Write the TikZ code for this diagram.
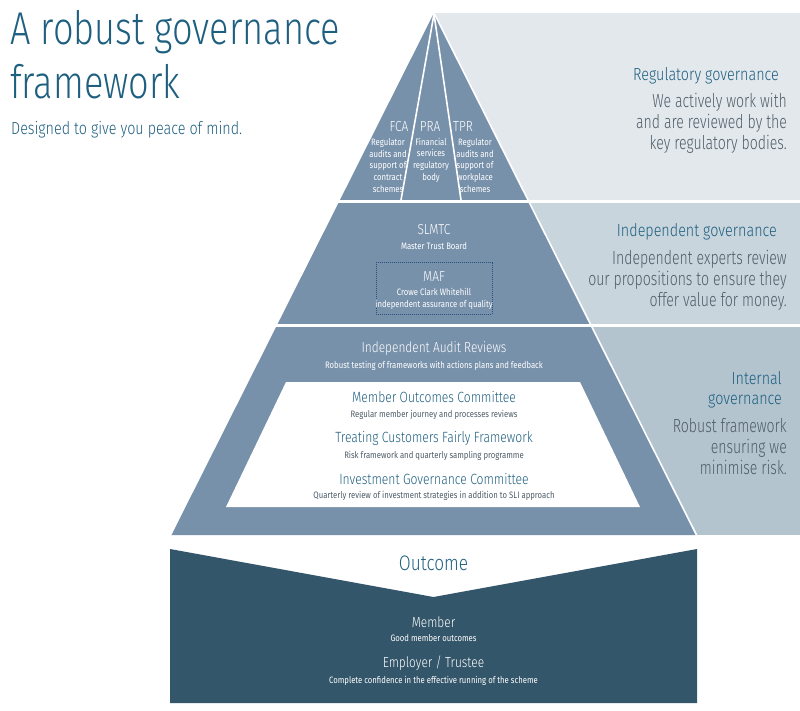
\documentclass[tikz,border=0pt]{standalone}
\usepackage{fontspec}
\setmainfont{Fira Sans}[UprightFont=* Light, FakeStretch=0.82]
\newfontfamily\narrowfont{Fira Sans}[UprightFont=* Light, FakeStretch=0.74]
\newfontfamily\titlefont{Fira Sans}[UprightFont=* Light, FakeStretch=0.785]
\newfontfamily\finefont{Fira Sans}[FakeStretch=0.83]
\definecolor{pyrfill}{HTML}{7891AB}
\definecolor{panA}{HTML}{E3E8EC}
\definecolor{panB}{HTML}{C9D5DD}
\definecolor{panC}{HTML}{B3C4CF}
\definecolor{outfill}{HTML}{34566A}
\definecolor{headblue}{HTML}{1E5F80}
\definecolor{bodygray}{HTML}{4F5D68}
\definecolor{mafline}{HTML}{2B4F7C}
\newcommand\fsz[2]{\fontsize{#1}{#2}\selectfont}
\tikzset{
  lbl/.style={inner sep=0, align=center},
  hwhite/.style={lbl, text=white, font=\fsz{14.5}{16}},
  swhite/.style={lbl, text=white, font=\finefont\fsz{9.3}{11.7}},
  hblue/.style={lbl, text=headblue, font=\fsz{14.8}{16}},
  sgray/.style={lbl, text=bodygray, font=\finefont\fsz{9.3}{11.7}},
  paneltitle/.style={inner sep=0, align=right, anchor=east, text=headblue, font=\fsz{17.5}{20.5}},
  paneltext/.style={inner sep=0, align=right, anchor=east, text=bodygray, font=\narrowfont\fsz{19}{21}},
  gap/.style={white, line width=3pt},
  seam/.style={white, line width=1.6pt},
}
\begin{document}
\begin{tikzpicture}[x=1pt, y=-1pt]
\useasboundingbox (0,0) rectangle (800,711);

% right-hand explanation panels
\fill[panA] (434,13) rectangle (800,200);
\fill[panB] (434,203) rectangle (800,324);
\fill[panC] (434,327) rectangle (800,535);

% pyramid body
\fill[pyrfill] (434,13) -- (696.5,535) -- (171.5,535) -- cycle;
\draw[seam] (434,13) -- (696.5,535);
\draw[gap] (150,201.5) -- (800,201.5);
\draw[gap] (150,325.5) -- (800,325.5);

% regulator segments at the top
\draw[seam] (434,14) -- (401,200);
\draw[seam] (434,14) -- (461,200);

% inner white band of the bottom tier
\fill[white] (286,382) -- (580,382) -- (640,507) -- (226,507) -- cycle;

% outcome chevron block
\fill[outfill] (170,549) -- (433.5,597) -- (697,549) -- (697,703) -- (170,703) -- cycle;

% title block
\node[anchor=north west, align=left, inner sep=0, text=headblue, font=\titlefont\fsz{46}{54}] (title) at (10,10) {A robust governance\\framework};
\node[anchor=west, inner sep=0, text=headblue, font=\fsz{17.5}{20}] (subtitle) at (11,130) {Designed to give you peace of mind.};

% top tier: regulators
\node[hwhite] (fca) at (399,127) {FCA};
\node[hwhite] (pra) at (430,127) {PRA};
\node[hwhite] (tpr) at (463,127) {TPR};
\node[swhite] (fcatxt) at (388,165.5) {Regulator\\audits and\\support of\\contract\\schemes};
\node[swhite] (pratxt) at (431,160) {Financial\\services\\regulatory\\body};
\node[swhite] (tprtxt) at (475,165.5) {Regulator\\audits and\\support of\\workplace\\schemes};

% middle tier: trust board and assurance
\node[hwhite] (slmtc) at (434,230) {SLMTC};
\node[swhite] (slmtctxt) at (434,246.5) {Master Trust Board};
\node[draw=mafline, densely dotted, line width=1pt, minimum width=116pt, minimum height=51pt, inner sep=0] (mafbox) at (434,288.5) {};
\node[hwhite] (maf) at (434,277) {MAF};
\node[swhite] (maftxt) at (434,299) {Crowe Clark Whitehill\\independent assurance of quality};

% bottom tier: internal reviews
\node[hwhite] (iar) at (434,349) {Independent Audit Reviews};
\node[swhite] (iartxt) at (434,366) {Robust testing of frameworks with actions plans and feedback};
\node[hblue] (moc) at (434,397) {Member Outcomes Committee};
\node[sgray] (moctxt) at (434,415) {Regular member journey and processes reviews};
\node[hblue] (tcf) at (434,438) {Treating Customers Fairly Framework};
\node[sgray] (tcftxt) at (434,456) {Risk framework and quarterly sampling programme};
\node[hblue] (igc) at (434,479) {Investment Governance Committee};
\node[sgray] (igctxt) at (434,496) {Quarterly review of investment strategies in addition to SLI approach};

% outcome block
\node[lbl, text=headblue, font=\fsz{21}{24}] (outcome) at (433.5,563) {Outcome};
\node[hwhite] (member) at (433.5,622) {Member};
\node[swhite] (membertxt) at (433.5,638.5) {Good member outcomes};
\node[hwhite] (employer) at (433.5,663) {Employer / Trustee};
\node[swhite] (employertxt) at (433.5,681) {Complete confidence in the effective running of the scheme};

% panel texts
\node[paneltitle] (regtitle) at (779,76) {Regulatory governance};
\node[paneltext] (regtxt) at (787,123) {We actively work with\\and are reviewed by the\\key regulatory bodies.};
\node[paneltitle] (indtitle) at (777,232) {Independent governance};
\node[paneltext] (indtxt) at (787,280) {Independent experts review\\our propositions to ensure they\\offer value for money.};
\node[paneltitle] (inttitle) at (782,390) {Internal\\governance};
\node[paneltext] (inttxt) at (787,447) {Robust framework\\ensuring we\\minimise risk.};
\end{tikzpicture}
\end{document}
